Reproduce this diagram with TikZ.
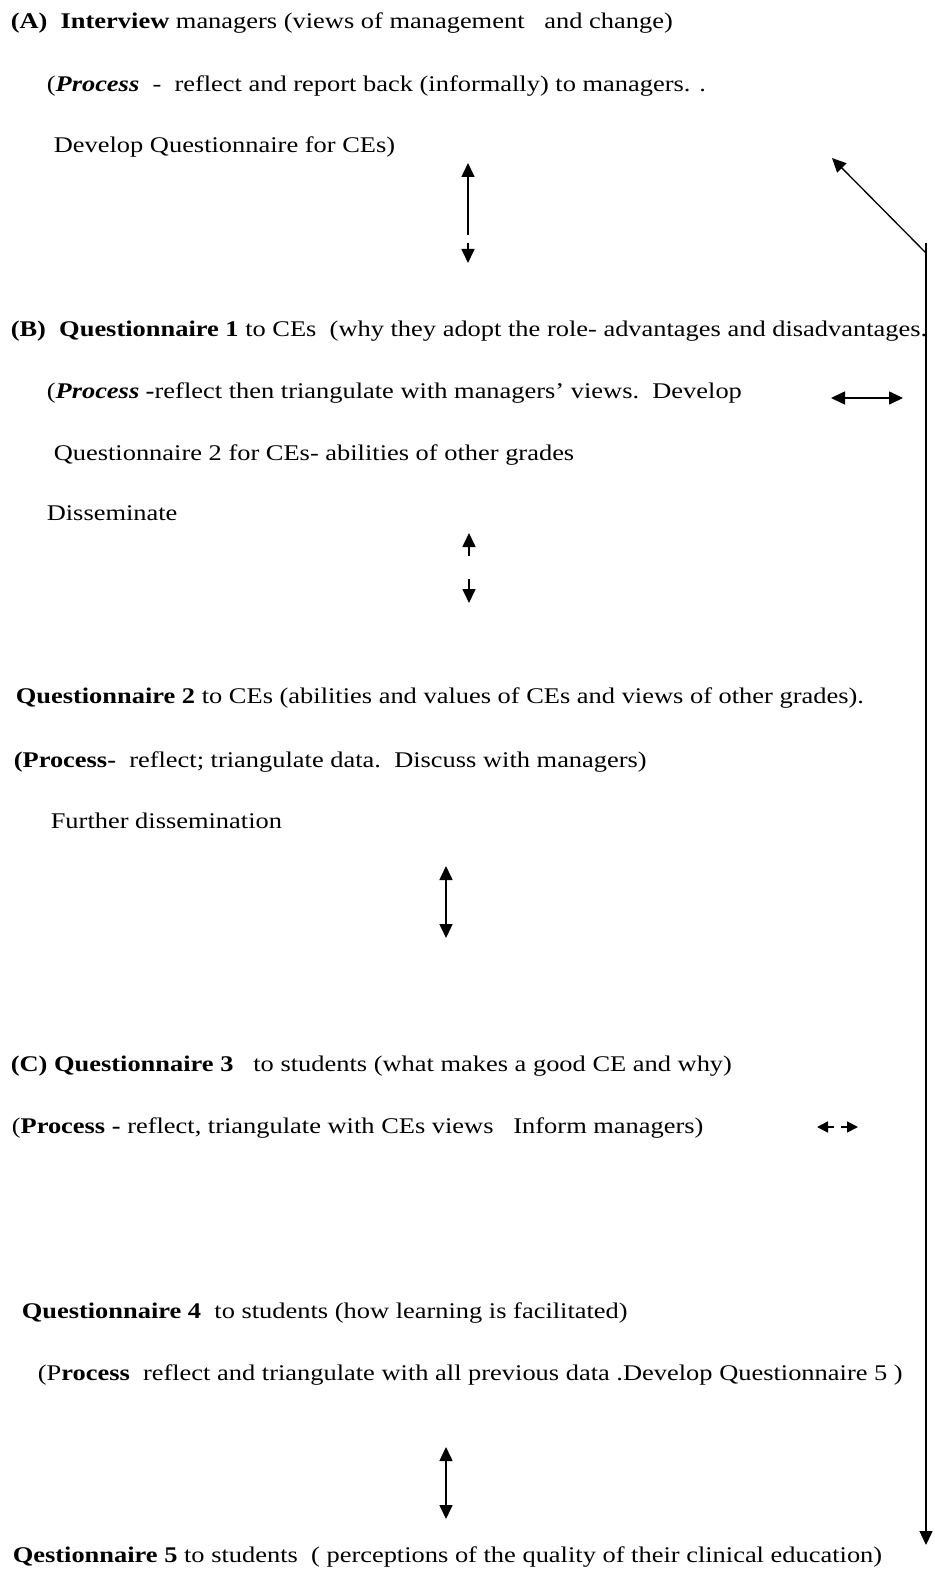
\documentclass[tikz,border=0pt]{standalone}
\usepackage{fontspec}
\setmainfont{Liberation Serif}[FakeStretch=1.18]
\usetikzlibrary{arrows.meta}

\begin{document}
\begin{tikzpicture}[x=1pt, y=-1pt, line width=1.6pt,
    txt/.style={anchor=base west, inner sep=0pt, font=\fontsize{22.4}{26}\selectfont},
    tip/.style={-{Triangle[length=14pt,width=13pt]}},
    small tip/.style={-{Triangle[length=11pt,width=11pt]}},
    twotip/.style={{Triangle[length=14pt,width=13pt]}-{Triangle[length=14pt,width=13pt]}}]
    \useasboundingbox (0,0) rectangle (934,1570);

    % stage A
    \node[txt] (a1) at (10,29) {\textbf{(A)\ \ Interview} managers (views of management\ \ \ and change)};
    \node[txt] (a2) at (46,92) {(\textbf{\textit{Process}}\ \ -\ \ reflect and report back (informally) to managers. .};
    \node[txt] (a3) at (53,153) {Develop Questionnaire for CEs)};

    % stage B
    \node[txt] (b1) at (10,336) {\textbf{(B)\ \ Questionnaire 1} to CEs\ \ (why they adopt the role- advantages and disadvantages.};
    \node[txt] (b2) at (46,398) {(\textbf{\textit{Process -}}reflect then triangulate with managers' views.\ \ Develop};
    \node[txt] (b3) at (53,460) {Questionnaire 2 for CEs- abilities of other grades};
    \node[txt] (b4) at (46,520) {Disseminate};

    \node[txt] (q1) at (15,703) {\textbf{Questionnaire 2} to CEs (abilities and values of CEs and views of other grades).};
    \node[txt] (q2) at (13,767) {\textbf{(Process-}\ \ reflect; triangulate data.\ \ Discuss with managers)};
    \node[txt] (q3) at (50,828) {Further dissemination};

    % stage C
    \node[txt] (c1) at (10,1071) {\textbf{(C) Questionnaire 3}\ \ \ to students (what makes a good CE and why)};
    \node[txt] (c2) at (11,1133) {(\textbf{Process -} reflect, triangulate with CEs views\ \ \ Inform managers)};

    \node[txt] (d1) at (21,1318) {\textbf{Questionnaire 4}\ \ to students (how learning is facilitated)};
    \node[txt] (d2) at (37,1380) {(P\textbf{rocess}\ \ reflect and triangulate with all previous data .Develop Questionnaire 5 )};

    \node[txt] (e1) at (12,1562) {\textbf{Qestionnaire 5} to students\ \ ( perceptions of the quality of their clinical education)};

    % arrows between stages
    \coordinate (s1a) at (468,163);
    \coordinate (s1b) at (468,235);
    \coordinate (s1c) at (468,243);
    \coordinate (s1d) at (468,263);
    \draw[tip] (s1b) -- (s1a);
    \draw[tip] (s1c) -- (s1d);

    \coordinate (s2a) at (469,533);
    \coordinate (s2b) at (469,556);
    \coordinate (s2c) at (469,579);
    \coordinate (s2d) at (469,603);
    \draw[tip] (s2b) -- (s2a);
    \draw[tip] (s2c) -- (s2d);

    \coordinate (s3a) at (446,866);
    \coordinate (s3b) at (446,938);
    \draw[twotip] (s3a) -- (s3b);

    \coordinate (s4a) at (446,1447);
    \coordinate (s4b) at (446,1519);
    \draw[twotip] (s4a) -- (s4b);

    % side arrows
    \coordinate (h1a) at (831,398);
    \coordinate (h1b) at (903,398);
    \draw[twotip] (h1a) -- (h1b);

    \coordinate (h2a) at (834,1127);
    \coordinate (h2b) at (817,1127);
    \coordinate (h2c) at (841,1127);
    \coordinate (h2d) at (858,1127);
    \draw[small tip] (h2a) -- (h2b);
    \draw[small tip] (h2c) -- (h2d);

    % feedback loop
    \coordinate (top) at (926,243);
    \coordinate (bend) at (926,253);
    \coordinate (back) at (832,158);
    \coordinate (bot) at (926,1545);
    \draw[tip, line width=1.3pt] (top) -- (bot);
    \draw[tip, line width=1.3pt] (bend) -- (back);
\end{tikzpicture}
\end{document}
